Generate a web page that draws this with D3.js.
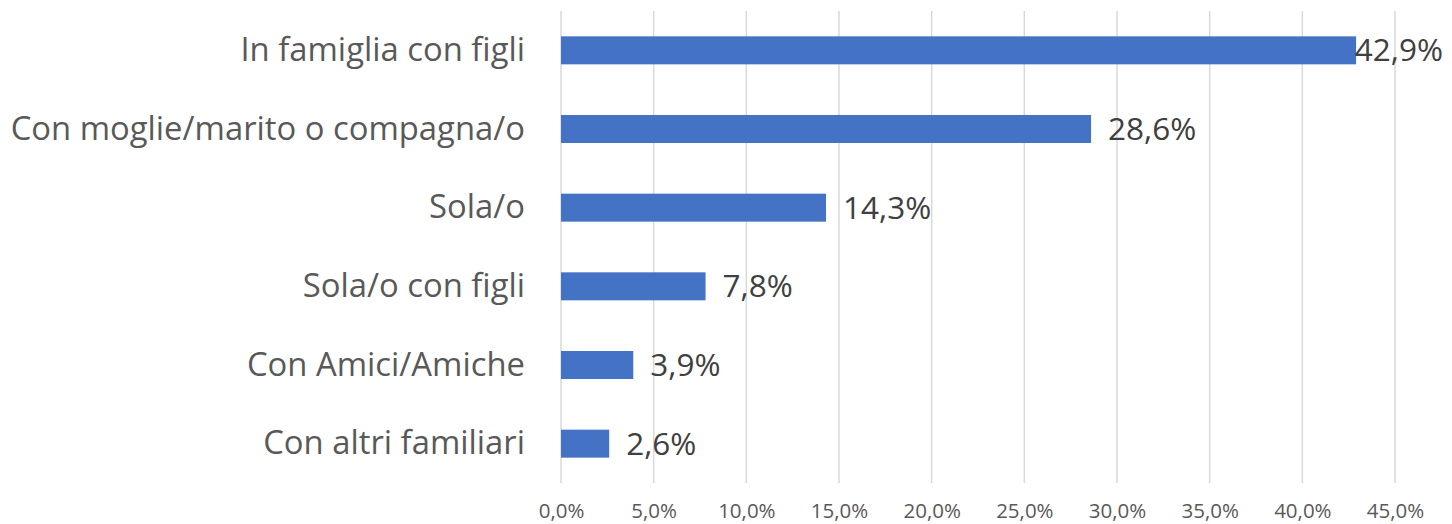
<!DOCTYPE html>
<html>
<head>
<meta charset="utf-8">
<script src="https://cdn.jsdelivr.net/npm/d3@7"></script>
<style>
  body { margin: 0; background: #fff; }
  svg { display: block; font-family: "Open Sans", "Noto Sans", sans-serif; }
</style>
</head>
<body>
<svg id="chart"></svg>
<script>
const categories = [
  "In famiglia con figli",
  "Con moglie/marito o compagna/o",
  "Sola/o",
  "Sola/o con figli",
  "Con Amici/Amiche",
  "Con altri familiari"
];
const values = [42.9, 28.6, 14.3, 7.8, 3.9, 2.6];
const tickValues = [0, 5, 10, 15, 20, 25, 30, 35, 40, 45];

const width = 1452;
const height = 524;
const margin = { top: 11, right: 57, bottom: 41, left: 561 };

const data = categories.map((c, i) => ({ category: c, value: values[i] }));
const fmt = (v) => d3.format(".1f")(v).replace(".", ",") + "%";

const svg = d3.select("#chart").attr("width", width).attr("height", height);

const xScale = d3.scaleLinear()
  .domain([0, 45])
  .range([margin.left, width - margin.right]);

const yScale = d3.scaleBand()
  .domain(categories)
  .range([margin.top, height - margin.bottom])
  .paddingInner(0.644)
  .paddingOuter(0.322);

// vertical gridlines
svg.append("g")
  .selectAll("line")
  .data(tickValues)
  .enter()
  .append("line")
  .attr("x1", (d) => xScale(d))
  .attr("x2", (d) => xScale(d))
  .attr("y1", margin.top)
  .attr("y2", height - margin.bottom)
  .attr("stroke", "#d9d9d9")
  .attr("stroke-width", 1.5);

// x axis labels
const xAxis = d3.axisBottom(xScale)
  .tickValues(tickValues)
  .tickFormat(fmt)
  .tickSize(0)
  .tickPadding(20);

svg.append("g")
  .attr("transform", `translate(0,${height - margin.bottom})`)
  .call(xAxis)
  .call((g) => g.select(".domain").remove())
  .selectAll("text")
  .attr("fill", "#595959")
  .style("font-family", "'Open Sans', sans-serif")
  .style("font-size", "20.5px");

// y axis labels
const yAxis = d3.axisLeft(yScale).tickSize(0).tickPadding(36);

svg.append("g")
  .attr("transform", `translate(${margin.left},0)`)
  .call(yAxis)
  .call((g) => g.select(".domain").remove())
  .selectAll("text")
  .attr("fill", "#595959")
  .style("font-family", "'Open Sans', sans-serif")
  .style("font-size", "32.8px");

// bars
svg.selectAll(".bar")
  .data(data)
  .enter()
  .append("rect")
  .attr("class", "bar")
  .attr("x", xScale(0))
  .attr("y", (d) => yScale(d.category))
  .attr("width", (d) => xScale(d.value) - xScale(0))
  .attr("height", yScale.bandwidth())
  .attr("fill", "#4472c4");

// value labels
svg.selectAll(".label")
  .data(data)
  .enter()
  .append("text")
  .attr("class", "label")
  .attr("y", (d) => yScale(d.category) + yScale.bandwidth() / 2)
  .attr("dy", "0.35em")
  .attr("fill", "#404040")
  .style("font-size", "31.5px")
  .text((d) => fmt(d.value))
  .attr("x", function (d) {
    const w = this.getComputedTextLength();
    return Math.min(xScale(d.value) + 17, width - 9 - w);
  });
</script>
</body>
</html>
